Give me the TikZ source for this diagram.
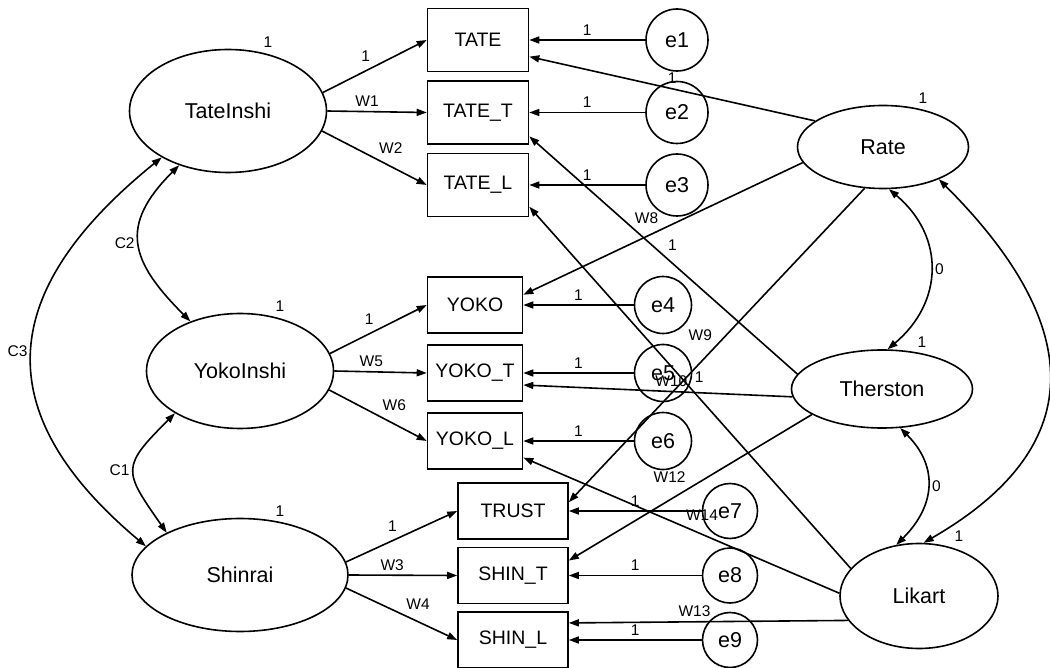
\documentclass[tikz,border=0pt]{standalone}
\usepackage{fontspec}
\setmainfont{Liberation Sans}
\usetikzlibrary{arrows.meta, positioning, shapes.geometric}

\begin{document}
\begin{tikzpicture}[>={Triangle[length=10pt, width=7pt]}, x=1pt, y=1pt, line width=1.6pt]
    \tikzstyle{lat}=[ellipse, draw, inner sep=0pt, font=\fontsize{21.5}{25}\selectfont]
    \tikzstyle{obs}=[rectangle, draw, inner sep=0pt, font=\fontsize{19.5}{23}\selectfont]
    \tikzstyle{err}=[circle, draw, inner sep=0pt, font=\fontsize{21.5}{25}\selectfont]
    \tikzstyle{lbl}=[font=\fontsize{15.5}{18}\selectfont, inner sep=4pt]

    \useasboundingbox (0,0) rectangle (1050,-668);

    % trait factors
    \node[lat, minimum width=197pt, minimum height=123pt] (TateInshi) at (228,-111) {TateInshi};
    \node[lat, minimum width=187pt, minimum height=115pt] (YokoInshi) at (240,-371) {YokoInshi};
    \node[lat, minimum width=216pt, minimum height=113pt] (Shinrai) at (240,-575) {Shinrai};

    % method factors
    \node[lat, minimum width=171pt, minimum height=83pt] (Rate) at (883,-147) {Rate};
    \node[lat, minimum width=181pt, minimum height=78pt] (Therston) at (882,-389) {Therston};
    \node[lat, minimum width=158pt, minimum height=105pt] (Likart) at (919,-596) {Likart};

    % observed
    \node[obs, minimum width=101pt, minimum height=63pt] (TATE) at (478,-40) {TATE};
    \node[obs, minimum width=101pt, minimum height=63pt, node distance=72.5pt, below of=TATE] (TATET) {TATE\_T};
    \node[obs, minimum width=101pt, minimum height=63pt, node distance=72.5pt, below of=TATET] (TATEL) {TATE\_L};
    \node[obs, minimum width=95pt, minimum height=56pt] (YOKO) at (475,-305) {YOKO};
    \node[obs, minimum width=95pt, minimum height=56pt, node distance=68pt, below of=YOKO] (YOKOT) {YOKO\_T};
    \node[obs, minimum width=95pt, minimum height=56pt, node distance=68pt, below of=YOKOT] (YOKOL) {YOKO\_L};
    \node[obs, minimum width=110pt, minimum height=56pt] (TRUST) at (513,-511) {TRUST};
    \node[obs, minimum width=110pt, minimum height=56pt, node distance=64.5pt, below of=TRUST] (SHINT) {SHIN\_T};
    \node[obs, minimum width=110pt, minimum height=56pt, node distance=64.5pt, below of=SHINT] (SHINL) {SHIN\_L};

    % errors
    \node[err, minimum size=62pt, node distance=199pt, right of=TATE] (e1) {e1};
    \node[err, minimum size=62pt, node distance=199pt, right of=TATET] (e2) {e2};
    \node[err, minimum size=62pt, node distance=199pt, right of=TATEL] (e3) {e3};
    \node[err, minimum size=57pt, node distance=188pt, right of=YOKO] (e4) {e4};
    \node[err, minimum size=57pt, node distance=188pt, right of=YOKOT] (e5) {e5};
    \node[err, minimum size=57pt, node distance=188pt, right of=YOKOL] (e6) {e6};
    \node[err, minimum size=55pt, node distance=217pt, right of=TRUST] (e7) {e7};
    \node[err, minimum size=55pt, node distance=217pt, right of=SHINT] (e8) {e8};
    \node[err, minimum size=55pt, node distance=217pt, right of=SHINL] (e9) {e9};

    % variances
    \node[lbl] (vTate) at ([shift={(40,7)}]TateInshi.north) {1};
    \node[lbl] (vYoko) at ([shift={(40,7)}]YokoInshi.north) {1};
    \node[lbl] (vShin) at ([shift={(40,7)}]Shinrai.north) {1};
    \node[lbl] (vRate) at ([shift={(40,7)}]Rate.north) {1};
    \node[lbl] (vTher) at ([shift={(40,7)}]Therston.north) {1};
    \node[lbl] (vLik) at ([shift={(40,7)}]Likart.north) {1};

    % trait loadings
    \draw[->] (TateInshi.11) -- node[lbl, midway, above left] {1} (TATE.west);
    \draw[->] (TateInshi.east) -- node[lbl, pos=0.4, above] {W1} (TATET.west);
    \draw[->] (TateInshi.-12) -- node[lbl, midway, above right] {W2} (TATEL.west);
    \draw[->] (YokoInshi.11) -- node[lbl, midway, above left] {1} (YOKO.west);
    \draw[->] (YokoInshi.east) -- node[lbl, pos=0.4, above] {W5} (YOKOT.west);
    \draw[->] (YokoInshi.-12) -- node[lbl, midway, above right] {W6} (YOKOL.west);
    \draw[->] (Shinrai.7) -- node[lbl, midway, above left] {1} (TRUST.west);
    \draw[->] (Shinrai.east) -- node[lbl, pos=0.4, above] {W3} (SHINT.west);
    \draw[->] (Shinrai.-7) -- node[lbl, midway, above right] {W4} (SHINL.west);

    % errors to observed
    \draw[->] (e1) -- node[lbl, midway, above] {1} (TATE);
    \draw[->] (e2) -- node[lbl, midway, above] {1} (TATET);
    \draw[->] (e3) -- node[lbl, midway, above] {1} (TATEL);
    \draw[->] (e4) -- node[lbl, midway, above] {1} (YOKO);
    \draw[->] (e5) -- node[lbl, midway, above] {1} (YOKOT);
    \draw[->] (e6) -- node[lbl, midway, above] {1} (YOKOL);
    \draw[->] (e7) -- node[lbl, midway, above] {1} (TRUST);
    \draw[->] (e8) -- node[lbl, midway, above] {1} (SHINT);
    \draw[->] (e9) -- node[lbl, midway, above] {1} (SHINL);

    % method loadings
    \draw[->] (Rate.159) -- node[lbl, midway, above] {1} (TATE.-18);
    \draw[->] (Rate.191) -- node[lbl, midway, above left] {W8} (YOKO.12);
    \draw[->] (Rate.246) -- node[lbl, midway, above left] {W9} (TRUST.9);
    \draw[->] (Therston.170) -- node[lbl, midway, above right] {1} (TATET.-25);
    \draw[->] (Therston.185) -- node[lbl, pos=0.45, above] {W10} (YOKOT.-14);
    \draw[->] (Therston.200) -- node[lbl, midway, above left] {W12} (SHINT.15);
    \draw[->] (Likart.158) -- node[lbl, midway, above right] {1} (TATEL.-23);
    \draw[->] (Likart.178) -- node[lbl, midway, above right] {W14} (YOKOL.-19);
    \draw[->] (Likart.199) -- node[lbl, pos=0.55, above] {W13} (SHINL.17);

    % covariances
    \draw[<->] (TateInshi.228) to[out=225, in=135, looseness=1.4] node[lbl, midway, left] {C2} (YokoInshi.135);
    \draw[<->] (TateInshi.215) to[out=219, in=140, looseness=1.38] node[lbl, midway, left] {C3} (Shinrai.163);
    \draw[<->] (YokoInshi.213) to[out=225, in=125, looseness=1.63] node[lbl, midway, left] {C1} (Shinrai.150);
    \draw[<->] (Rate.278) to[out=-40, in=40, looseness=1.17] node[lbl, midway, right] {0} (Therston.82);
    \draw[<->] (Therston.295) to[out=-45, in=45, looseness=1.2] node[lbl, midway, right] {0} (Likart.114);
    \draw[<->] (Rate.330) to[out=-45, in=30, looseness=1.4] (Likart.85);
\end{tikzpicture}
\end{document}
